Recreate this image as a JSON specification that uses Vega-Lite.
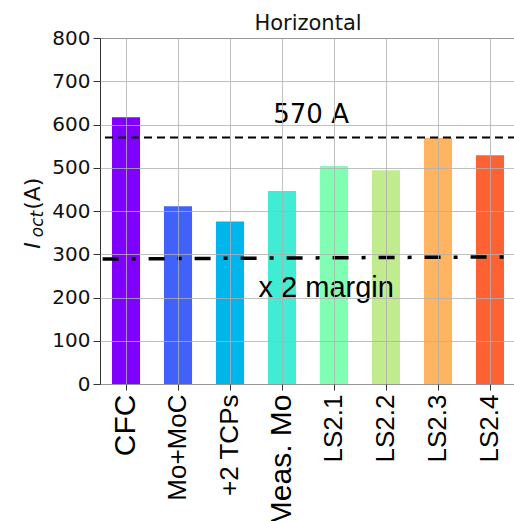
{
  "$schema": "https://vega.github.io/schema/vega-lite/v6.json",
  "autosize": "none",
  "padding": {"left": 100, "top": 38, "right": 0, "bottom": 137},
  "width": 416,
  "height": 346,
  "background": "white",
  "title": {"text": "Horizontal", "font": "DejaVu Sans", "fontSize": 21, "fontWeight": "normal", "color": "#111", "anchor": "middle", "offset": -6},
  "config": {
    "view": {"stroke": "#333", "strokeWidth": 1},
    "axis": {"gridColor": "#b0b0b0", "gridOpacity": 0.8, "gridWidth": 1, "tickColor": "#333", "domain": false, "zindex": 1}
  },
  "datasets": {
    "bars": [
      {"label": "CFC", "value": 617},
      {"label": "Mo+MoC", "value": 411},
      {"label": "+2 TCPs", "value": 376},
      {"label": "Meas. Mo", "value": 446},
      {"label": "LS2.1", "value": 504},
      {"label": "LS2.2", "value": 494},
      {"label": "LS2.3", "value": 569},
      {"label": "LS2.4", "value": 529}
    ]
  },
  "layer": [
    {
      "data": {"name": "bars"},
      "mark": {"type": "bar"},
      "encoding": {
        "x": {
          "field": "label", "type": "nominal", "sort": null,
          "scale": {"paddingInner": 0.46, "paddingOuter": 0.23},
          "axis": {
            "title": null, "labelAngle": -90, "labelFont": "Liberation Sans",
            "labelFontSize": {"condition": {"test": "datum.value === 'CFC' || datum.value === 'Meas. Mo'", "value": 30}, "value": 26},
            "labelColor": "#000", "tickSize": 6, "labelPadding": 4, "grid": true, "labelLimit": 300, "zindex": 1
          }
        },
        "y": {
          "field": "value", "type": "quantitative",
          "scale": {"domain": [0, 800], "nice": false},
          "axis": {
            "title": null, "values": [0, 100, 200, 300, 400, 500, 600, 700, 800],
            "labelFont": "DejaVu Sans", "labelFontSize": 20, "labelColor": "#111",
            "tickSize": 7, "labelPadding": 3, "grid": true, "zindex": 1
          }
        },
        "color": {
          "field": "label", "type": "nominal", "legend": null,
          "scale": {
            "domain": ["CFC", "Mo+MoC", "+2 TCPs", "Meas. Mo", "LS2.1", "LS2.2", "LS2.3", "LS2.4"],
            "range": ["#8000ff", "#4062fa", "#00b5eb", "#40ecd4", "#80ffb4", "#c0ec8e", "#ffb462", "#ff6232"]
          }
        }
      }
    },
    {
      "data": {"values": [{"limit": 570}]},
      "mark": {"type": "rule", "color": "#000", "strokeWidth": 2, "strokeDash": [8, 5]},
      "encoding": {"y": {"field": "limit", "type": "quantitative"}}
    },
    {
      "data": {"values": [{"xq": -0.45, "m": 289}, {"xq": 7.4, "m": 294}]},
      "mark": {"type": "line", "color": "#000", "strokeWidth": 3.5, "strokeDash": [16, 13, 4, 13]},
      "encoding": {
        "x": {"field": "xq", "type": "quantitative", "scale": {"domain": [-0.5, 7.5], "nice": false, "zero": false}, "axis": null},
        "y": {"field": "m", "type": "quantitative"}
      }
    },
    {
      "data": {"values": [{"xq": 3.56, "ty": 603, "t": "570 A"}]},
      "mark": {"type": "text", "font": "DejaVu Sans", "fontSize": 26, "color": "#000", "align": "center", "baseline": "alphabetic"},
      "encoding": {
        "x": {"field": "xq", "type": "quantitative", "scale": {"domain": [-0.5, 7.5], "nice": false, "zero": false}, "axis": null},
        "y": {"field": "ty", "type": "quantitative"},
        "text": {"field": "t"}
      }
    },
    {
      "data": {"values": [{"xq": 3.85, "ty": 201, "t": "x 2 margin"}]},
      "mark": {"type": "text", "font": "Liberation Sans", "fontSize": 29, "color": "#000", "align": "center", "baseline": "alphabetic"},
      "encoding": {
        "x": {"field": "xq", "type": "quantitative", "scale": {"domain": [-0.5, 7.5], "nice": false, "zero": false}, "axis": null},
        "y": {"field": "ty", "type": "quantitative"},
        "text": {"field": "t"}
      }
    },
    {
      "data": {"values": [{"xq": -1.66, "ty": 320, "t": "I"}]},
      "mark": {"type": "text", "font": "DejaVu Sans", "fontStyle": "italic", "fontSize": 22, "color": "#111", "angle": 270, "align": "center", "baseline": "alphabetic"},
      "encoding": {
        "x": {"field": "xq", "type": "quantitative", "scale": {"domain": [-0.5, 7.5], "nice": false, "zero": false}, "axis": null},
        "y": {"field": "ty", "type": "quantitative"},
        "text": {"field": "t"}
      }
    },
    {
      "data": {"values": [{"xq": -1.6, "ty": 370, "t": "oct"}]},
      "mark": {"type": "text", "font": "DejaVu Sans", "fontStyle": "italic", "fontSize": 17, "color": "#111", "angle": 270, "align": "center", "baseline": "alphabetic"},
      "encoding": {
        "x": {"field": "xq", "type": "quantitative", "scale": {"domain": [-0.5, 7.5], "nice": false, "zero": false}, "axis": null},
        "y": {"field": "ty", "type": "quantitative"},
        "text": {"field": "t"}
      }
    },
    {
      "data": {"values": [{"xq": -1.66, "ty": 440, "t": "(A)"}]},
      "mark": {"type": "text", "font": "DejaVu Sans", "fontSize": 22, "color": "#111", "angle": 270, "align": "center", "baseline": "alphabetic"},
      "encoding": {
        "x": {"field": "xq", "type": "quantitative", "scale": {"domain": [-0.5, 7.5], "nice": false, "zero": false}, "axis": null},
        "y": {"field": "ty", "type": "quantitative"},
        "text": {"field": "t"}
      }
    }
  ],
  "resolve": {"scale": {"x": "independent", "color": "independent"}}
}
